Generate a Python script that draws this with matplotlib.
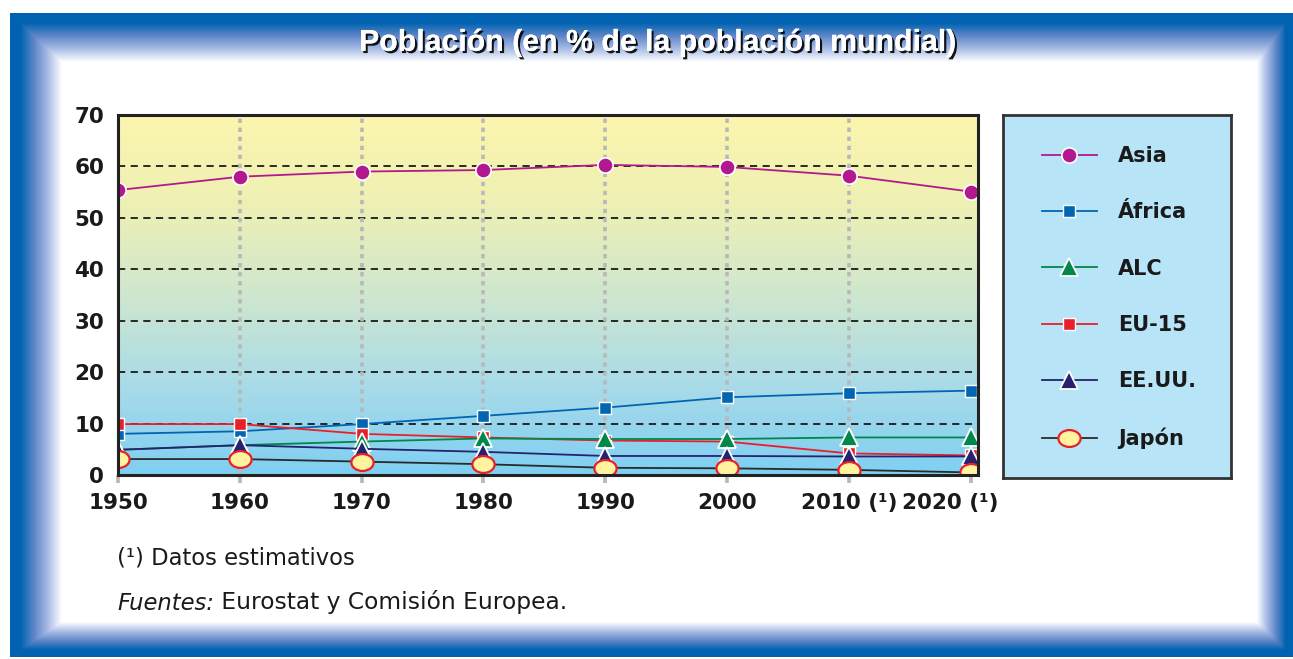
import matplotlib
matplotlib.use("Agg")
import matplotlib.pyplot as plt
import matplotlib.patheffects as pe
from matplotlib.path import Path
from matplotlib.transforms import Affine2D, ScaledTranslation
from matplotlib.colors import LinearSegmentedColormap
import numpy as np

# ---- data ----
years = [1950, 1960, 1970, 1980, 1990, 2000, 2010, 2020]
year_labels = ["1950", "1960", "1970", "1980", "1990", "2000", "2010 (¹)", "2020 (¹)"]
asia = [55.4, 58.0, 59.0, 59.3, 60.3, 59.9, 58.2, 55.1]
africa = [8.0, 8.5, 9.9, 11.5, 13.1, 15.1, 15.9, 16.4]
alc = [4.9, 5.8, 6.5, 7.1, 7.0, 7.0, 7.3, 7.3]
eu15 = [9.9, 9.9, 8.0, 7.3, 6.7, 6.5, 4.2, 3.8]
eeuu = [4.9, 5.8, 5.1, 4.5, 3.7, 3.7, 3.6, 3.6]
japon = [3.1, 3.1, 2.6, 2.1, 1.4, 1.3, 1.0, 0.5]

W, H = 1293, 659
fig = plt.figure(figsize=(W / 100, H / 100), dpi=100)

# ---- bevelled blue frame ----
bg = fig.add_axes([0, 0, 1, 1], zorder=-10)
bg.set_axis_off()
xx, yy = np.meshgrid(np.arange(W) + 0.5, np.arange(H) + 0.5)
ix0, ix1, iy0, iy1 = 62, 1257, 62, 622
s = np.zeros((H, W))
s = np.maximum(s, (ix0 - xx) / 52)
s = np.maximum(s, (xx - ix1) / 36)
s = np.maximum(s, (iy0 - yy) / 49)
s = np.maximum(s, (yy - iy1) / 35)
s = np.clip(s / 0.8, 0, 1)
frame_cmap = LinearSegmentedColormap.from_list(
    "frame", ["#ffffff", "#a9bde6", "#5f86c8", "#0062b1"])
img = frame_cmap(s)[..., :3]
img[(xx < 10) | (yy < 13) | (yy > 657)] = 1.0
bg.imshow(img, extent=(0, 1, 0, 1), aspect="auto", interpolation="bilinear")
bg.set_xlim(0, 1)
bg.set_ylim(0, 1)

fig.text(0.508, 0.935, "Población (en % de la población mundial)",
         ha="center", va="center", color="white", fontsize=21.8,
         fontweight="bold", family="Liberation Sans",
         path_effects=[pe.withSimplePatchShadow(offset=(1.6, -1.6),
                                                shadow_rgbFace="black", alpha=0.9),
                       pe.Normal()])

# ---- main plot ----
ax = fig.add_axes([118 / W, 1 - 475 / H, 860 / W, 360 / H])
grad = LinearSegmentedColormap.from_list(
    "bg", ["#7fcff2", "#a9dbe8", "#cfe7cf", "#eef0b4", "#fcf5ae"])
ax.imshow(np.linspace(0, 1, 256).reshape(-1, 1), cmap=grad, origin="lower",
          extent=(0, 1, 0, 1), transform=ax.transAxes, aspect="auto", zorder=0)

for yv in range(10, 70, 10):
    ax.axhline(yv, color="#1a1a1a", lw=1.3, ls=(0, (4, 3)), zorder=1)
for xv in years[1:-1]:
    ax.axvline(xv, color="#b8b8b8", lw=2.6, ls=(0, (1.2, 1.3)), zorder=1)

lw = 1.3
ax.plot(years, asia, color="#b3198e", lw=lw, marker="o", ms=11,
        mfc="#b3198e", mec="white", mew=1.2, label="Asia", zorder=3)
ax.plot(years, africa, color="#0066b3", lw=lw, marker="s", ms=8.5,
        mfc="#0066b3", mec="white", mew=1.0, label="África", zorder=3)
ax.plot(years, eu15, color="#e8202a", lw=lw, marker="s", ms=8.5,
        mfc="#e8202a", mec="white", mew=1.0, label="EU-15", zorder=3)
ax.plot(years, alc, color="#00874a", lw=lw, marker="^", ms=13,
        mfc="#00874a", mec="white", mew=1.3, label="ALC", zorder=4)
ax.plot(years, eeuu, color="#26226f", lw=lw, marker="^", ms=13,
        mfc="#26226f", mec="white", mew=1.3, label="EE.UU.", zorder=5)
ellipse = Path(Affine2D().scale(1, 0.76).transform(Path.unit_circle().vertices),
               Path.unit_circle().codes)
ax.plot(years, japon, color="#2a2a2a", lw=lw, marker=ellipse, ms=16,
        mfc="#fff3a0", mec="#e8202a", mew=1.6, label="Japón", zorder=6)

ax.set_xlim(1950, 2020.6)
ax.set_ylim(0, 70)
ax.set_yticks(range(0, 71, 10))
ax.set_xticks(years)
ax.set_xticklabels(year_labels)
ax.tick_params(axis="y", length=0, pad=10, labelsize=15.5, colors="#1a1a1a")
ax.tick_params(axis="x", length=6, width=2.6, color="#b8b8b8", pad=7,
               labelsize=15.5, labelcolor="#1a1a1a")
for lab in ax.get_xticklabels() + ax.get_yticklabels():
    lab.set_fontweight("bold")
last = ax.get_xticklabels()[-1]
last.set_transform(last.get_transform() + ScaledTranslation(-0.2, 0, fig.dpi_scale_trans))
for sp in ax.spines.values():
    sp.set_color("#222222")
    sp.set_linewidth(2.2)
    sp.set_zorder(7)

# ---- legend box ----
lax = fig.add_axes([1003 / W, 1 - 478 / H, 228 / W, 363 / H])
lax.set_facecolor("#b8e4f8")
lax.set_xticks([])
lax.set_yticks([])
for sp in lax.spines.values():
    sp.set_color("#333333")
    sp.set_linewidth(2)
handles, labels = ax.get_legend_handles_labels()
order = ["Asia", "África", "ALC", "EU-15", "EE.UU.", "Japón"]
hmap = dict(zip(labels, handles))
lax.legend([hmap[k] for k in order], order, loc="upper left",
           bbox_to_anchor=(0.17, 0.914), frameon=False, borderpad=0,
           borderaxespad=0, handlelength=2.65, handletextpad=1.0,
           labelspacing=1.74, prop={"weight": "bold", "size": 15},
           labelcolor="#1a1a1a")

# ---- footnotes ----
fig.text(117 / W, 1 - 558 / H, "(¹) Datos estimativos", ha="left", va="center",
         fontsize=16.3, color="#1a1a1a")
t1 = fig.text(117 / W, 1 - 603 / H, "Fuentes:", ha="left", va="center",
              fontsize=16.3, style="italic", color="#1a1a1a")
fig.add_artist(plt.Annotation(" Eurostat y Comisión Europea.", xy=(1, 0),
                              xycoords=t1, ha="left", va="bottom",
                              fontsize=16.8, color="#1a1a1a"))

fig.savefig("out.png", dpi=100)
